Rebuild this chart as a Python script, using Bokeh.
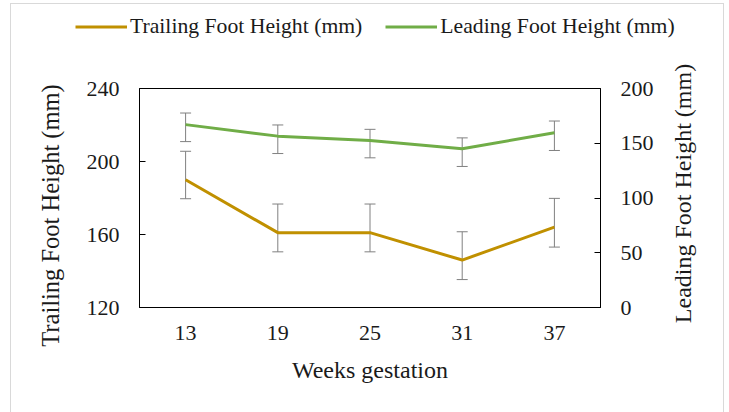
import math
from bokeh.plotting import figure
from bokeh.layouts import column, row
from bokeh.models import (Range1d, LinearAxis, FactorRange, ColumnDataSource, Whisker,
                          Legend, LegendItem, FixedTicker, TeeHead, Label)
from bokeh.embed import file_html
from bokeh.resources import INLINE

weeks = ["13", "19", "25", "31", "37"]
trailing = [190, 161, 161, 146, 164]
trailing_upper = [205.6, 176.7, 176.7, 161.5, 179.8]
trailing_lower = [179.6, 150.5, 150.5, 135.3, 153.1]
leading = [167, 156.5, 152.5, 145, 159.5]
leading_upper = [177.6, 166.7, 162.7, 154.9, 170.3]
leading_lower = [151.5, 140.6, 136.7, 128.8, 143.4]
left_ticks = [120, 160, 200, 240]
right_ticks = [0, 50, 100, 150, 200]

FONT = "Liberation Serif"
GOLD = "#C09000"
GREEN = "#70AD47"
GRAY = "#808080"
TXT = "#1a1a1a"

src = ColumnDataSource(dict(
    week=weeks,
    t=trailing, t_lo=trailing_lower, t_hi=trailing_upper,
    l=leading, l_lo=leading_lower, l_hi=leading_upper,
))

W = 712          # inner width (inside the light border)
LH = 50          # legend strip height
H = 360          # chart row height
LW = 59          # left title strip width
RW = 58          # right title strip width
MW = W - LW - RW # main chart width


def bare(fig):
    fig.xgrid.visible = False
    fig.ygrid.visible = False
    fig.outline_line_color = None
    fig.border_fill_color = "white"
    fig.background_fill_color = "white"
    fig.frame_align = False


def strip(width, height, xr=None):
    f = figure(width=width, height=height,
               x_range=xr if xr is not None else Range1d(0, 1), y_range=Range1d(0, 1),
               output_backend="svg", toolbar_location=None,
               x_axis_type=None, y_axis_type=None,
               min_border_left=0, min_border_right=0, min_border_top=0, min_border_bottom=0)
    bare(f)
    return f


# legend strip (its lines share the data but fall outside its 0..1 range)
lg = strip(W, LH, FactorRange(*weeks))
d1 = lg.line("week", "t", source=src, line_color=GOLD, line_width=3)
d2 = lg.line("week", "l", source=src, line_color=GREEN, line_width=3)
legend = Legend(items=[LegendItem(label="Trailing Foot Height (mm)", renderers=[d1]),
                       LegendItem(label="Leading Foot Height (mm)", renderers=[d2])],
                orientation="horizontal", location=(64, 15),
                label_text_font=FONT, label_text_font_size="21.7px", label_text_color=TXT,
                glyph_width=52, glyph_height=21, label_height=21, label_standoff=3, spacing=23,
                padding=0, margin=0, border_line_alpha=0, background_fill_alpha=0)
lg.add_layout(legend, "center")

# main chart
p = figure(width=MW, height=H, x_range=FactorRange(*weeks), y_range=Range1d(120, 240),
           output_backend="svg", toolbar_location=None,
           min_border_left=69, min_border_right=65, min_border_top=34, min_border_bottom=107)
p.extra_y_ranges = {"lead": Range1d(0, 200)}
p.xgrid.visible = False
p.ygrid.visible = False
p.outline_line_color = "black"
p.outline_line_width = 1
p.background_fill_color = "white"
p.border_fill_color = "white"
p.frame_align = False

p.line("week", "t", source=src, line_color=GOLD, line_width=3)
p.line("week", "l", source=src, line_color=GREEN, line_width=3, y_range_name="lead")

for lo, hi, rng in (("t_lo", "t_hi", "default"), ("l_lo", "l_hi", "lead")):
    w = Whisker(source=src, base="week", lower=lo, upper=hi, line_color=GRAY, line_width=1,
                y_range_name=rng,
                upper_head=TeeHead(size=11, line_color=GRAY, line_width=1),
                lower_head=TeeHead(size=11, line_color=GRAY, line_width=1))
    p.add_layout(w)


def style_axis(ax):
    ax.axis_line_color = "black"
    ax.major_tick_line_color = "black"
    ax.minor_tick_line_color = None
    ax.major_label_text_font = FONT
    ax.major_label_text_font_size = "22px"
    ax.major_label_text_color = TXT
    ax.axis_label_text_font = FONT
    ax.axis_label_text_font_size = "24px"
    ax.axis_label_text_font_style = "normal"
    ax.axis_label_text_color = TXT


xa = p.xaxis[0]
style_axis(xa)
xa.axis_label = "Weeks gestation"
xa.major_tick_in = 0
xa.major_tick_out = 0
xa.major_label_standoff = 18
xa.axis_label_standoff = 14

ya = p.yaxis[0]
style_axis(ya)
ya.ticker = FixedTicker(ticks=left_ticks)
ya.major_tick_in = 6
ya.major_tick_out = 0
ya.major_label_standoff = 20

ra = LinearAxis(y_range_name="lead", ticker=FixedTicker(ticks=right_ticks))
style_axis(ra)
ra.major_tick_in = 6
ra.major_tick_out = 0
ra.major_label_standoff = 20
p.add_layout(ra, "right")

# side title strips (both read bottom to top, as in the reference)
lf = strip(LW, H)
lf.add_layout(Label(x=39, y=H - 161, x_units="screen", y_units="screen",
                    text="Trailing Foot Height (mm)", angle=math.pi / 2,
                    text_align="center", text_baseline="middle",
                    text_font=FONT, text_font_size="24.5px", text_color=TXT))

rf = strip(RW, H)
rf.add_layout(Label(x=17, y=H - 139, x_units="screen", y_units="screen",
                    text="Leading Foot Height (mm)", angle=math.pi / 2,
                    text_align="center", text_baseline="middle",
                    text_font=FONT, text_font_size="24px", text_color=TXT))

layout = column(lg, row(lf, p, rf, spacing=0), spacing=0,
                styles={"margin-left": "10px", "margin-top": "3px", "border": "1px solid #d9d9d9"})

open("out.html", "w").write(file_html(layout, INLINE))
